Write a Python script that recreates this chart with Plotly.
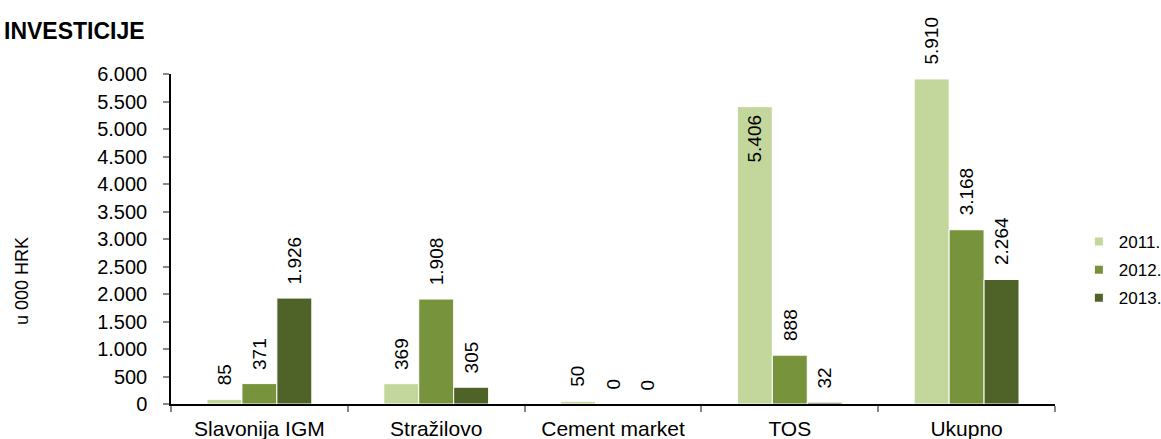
import plotly.graph_objects as go

categories = ["Slavonija IGM", "Stražilovo", "Cement market", "TOS", "Ukupno"]
series_names = ["2011.", "2012.", "2013."]
v2011 = [85, 369, 50, 5406, 5910]
v2012 = [371, 1908, 0, 888, 3168]
v2013 = [1926, 305, 0, 32, 2264]
series_values = [v2011, v2012, v2013]
colors = ["#c3d69b", "#77933c", "#4f6228"]
inside_labels = [("TOS", "2011.")]

y_tickvals = list(range(0, 6001, 500))
y_ticktext = [f"{v:,}".replace(",", ".") for v in y_tickvals]

FONT = "Liberation Sans, Arial, sans-serif"
BARGAP = 0.407

fig = go.Figure()
for name, vals, col in zip(series_names, series_values, colors):
    fig.add_trace(go.Bar(
        x=categories, y=vals, name=name, showlegend=False,
        marker=dict(color=col, line=dict(color="white", width=1)),
    ))
# legend entries
for i, (name, col) in enumerate(zip(series_names, colors)):
    fig.add_trace(go.Scatter(
        x=[None], y=[None], mode="markers", name=name, legendgroup=f"g{i}",
        marker=dict(symbol="square", size=8, color=col),
    ))

bw = (1 - BARGAP) / 3
annotations = []
for i, (name, vals) in enumerate(zip(series_names, series_values)):
    for j, (cat, v) in enumerate(zip(categories, vals)):
        txt = f"{v:,}".replace(",", ".")
        inside = (cat, name) in inside_labels
        annotations.append(dict(
            x=j + (i - 1) * bw, y=v, xref="x", yref="y", text=txt,
            showarrow=False, textangle=-90,
            xanchor="center", yanchor="top" if inside else "bottom",
            yshift=-6 if inside else 12,
            font=dict(family=FONT, size=19, color="black"),
        ))

# title and y-axis title
annotations.append(dict(
    x=-0.191, y=1.1318, xref="paper", yref="paper", text="<b>INVESTICIJE</b>",
    showarrow=False, xanchor="left", yanchor="middle",
    font=dict(family=FONT, size=23, color="black"),
))
annotations.append(dict(
    x=-0.1686, y=0.3727, xref="paper", yref="paper", text="u 000 HRK",
    showarrow=False, xanchor="center", yanchor="middle", textangle=-90,
    font=dict(family=FONT, size=18, color="black"),
))

fig.update_layout(
    width=1161, height=439,
    margin=dict(l=171, r=106, t=74, b=35, autoexpand=False),
    paper_bgcolor="white", plot_bgcolor="white",
    barmode="group", bargap=BARGAP, bargroupgap=0,
    font=dict(family=FONT, color="black"),
    annotations=annotations,
    legend=dict(
        x=1.027, y=0.406, xanchor="left", yanchor="middle",
        font=dict(family=FONT, size=17, color="black"),
        tracegroupgap=3, bgcolor="rgba(0,0,0,0)",
    ),
    xaxis=dict(
        type="category", showgrid=False, showline=True, linecolor="black", linewidth=1.5,
        ticks="outside", tickson="boundaries", ticklen=6, tickcolor="#888888", tickwidth=1.5,
        tickfont=dict(family=FONT, size=21, color="black"), ticklabelstandoff=5,
        automargin=False, zeroline=False,
    ),
    yaxis=dict(
        range=[0, 6000], tickvals=y_tickvals, ticktext=y_ticktext,
        showgrid=False, showline=True, linecolor="black", linewidth=1.5,
        ticks="outside", ticklen=6, tickcolor="#888888", tickwidth=1.5,
        tickfont=dict(family=FONT, size=20, color="black"), ticklabelstandoff=12,
        automargin=False, zeroline=False,
    ),
)

fig.write_html(
    "out.html",
    config={"displayModeBar": False},
    post_script="document.body.style.margin='0';document.body.style.overflow='hidden';",
)
